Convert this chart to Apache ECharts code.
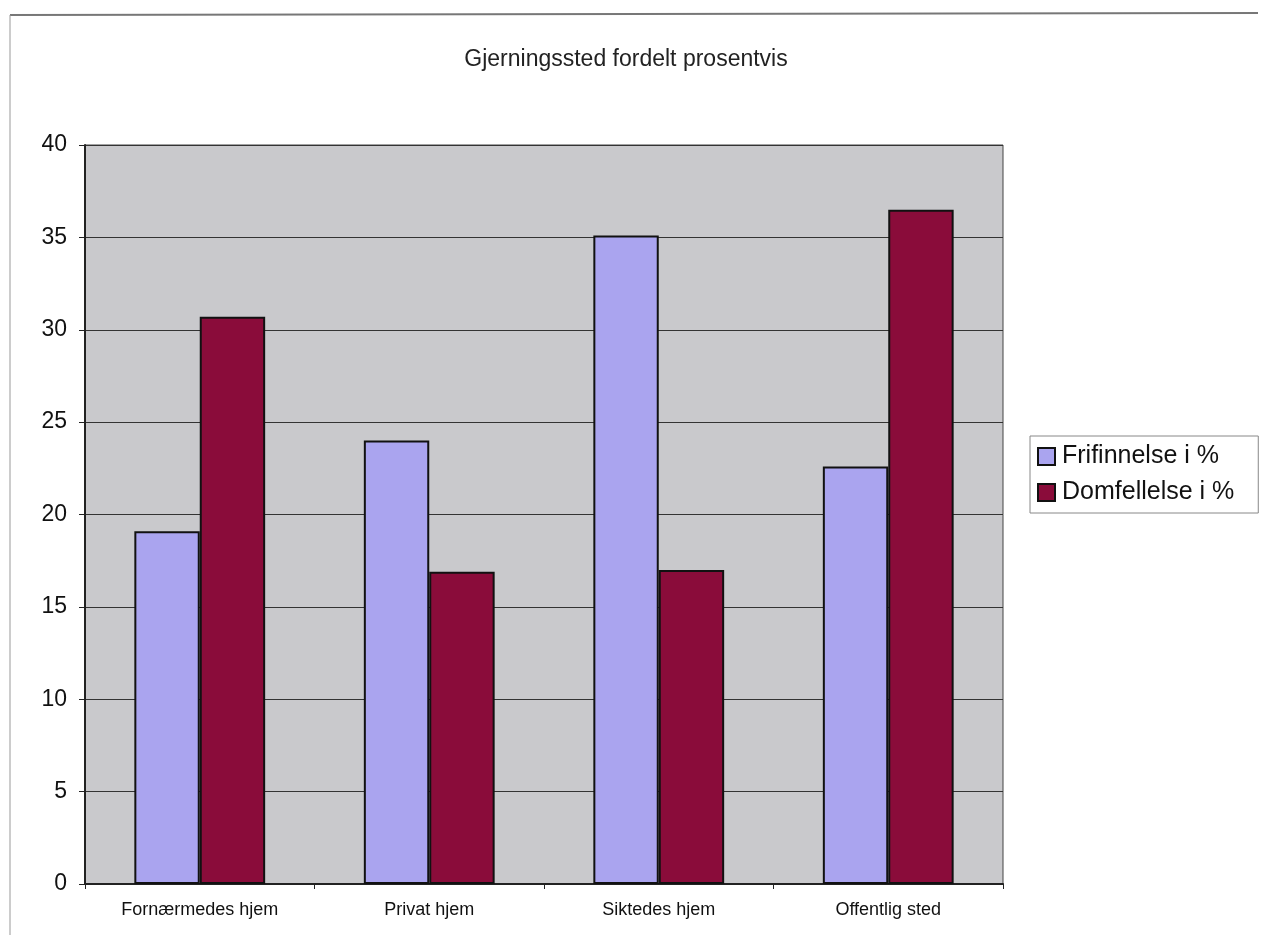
<!DOCTYPE html>
<html><head><meta charset="utf-8">
<script src="https://cdn.jsdelivr.net/npm/echarts@6/dist/echarts.min.js"></script>
<style>html,body{margin:0;padding:0;background:#fff}#c{width:1261px;height:938px}</style>
</head><body><div id="c"></div>
<script>
const categories = ['Fornærmedes hjem', 'Privat hjem', 'Siktedes hjem', 'Offentlig sted'];
const frifinnelse = [19.1, 24.0, 35.1, 22.6];
const domfellelse = [30.7, 16.9, 17.0, 36.5];
const seriesNames = ['Frifinnelse i %', 'Domfellelse i %'];

const chart = echarts.init(document.getElementById('c'));
chart.setOption({
  backgroundColor: '#fff',
  animation: false,
  title: {
    text: 'Gjerningssted fordelt prosentvis',
    left: 621, top: 43, textAlign: 'center',
    textStyle: { fontFamily: 'Liberation Sans, Arial', fontSize: 23, fontWeight: 'normal', color: '#222' }
  },
  graphic: [
    { type: 'line', shape: { x1: 10, y1: 15, x2: 1258, y2: 13 }, style: { stroke: '#777', lineWidth: 2 } },
    { type: 'line', shape: { x1: 10, y1: 15, x2: 10, y2: 935 }, style: { stroke: '#999', lineWidth: 1 } }
  ],
  legend: {
    orient: 'vertical',
    left: 1030, top: 436,
    icon: 'rect',
    itemWidth: 17, itemHeight: 17, itemGap: 11,
    padding: [8, 24, 8, 7],
    borderColor: '#888', borderWidth: 1,
    textStyle: { fontFamily: 'Liberation Sans, Arial', fontSize: 25, color: '#111', padding: [0, 0, 0, 2] },
    data: seriesNames.map(n => ({ name: n, itemStyle: { borderColor: '#111', borderWidth: 2 } }))
  },
  grid: { left: 85, right: 258, top: 145, bottom: 54, show: true, backgroundColor: '#c9c9cc', borderColor: '#444', borderWidth: 1 },
  xAxis: {
    type: 'category', data: categories,
    axisLine: { lineStyle: { color: '#222', width: 2 } },
    axisTick: { show: true, length: 5, lineStyle: { color: '#222' } },
    axisLabel: { fontFamily: 'Liberation Sans, Arial', fontSize: 18, color: '#111', margin: 17 }
  },
  yAxis: {
    type: 'value', min: 0, max: 40, interval: 5,
    axisLine: { show: true, lineStyle: { color: '#222', width: 2 } },
    axisTick: { show: true, length: 6, lineStyle: { color: '#222' } },
    axisLabel: { fontFamily: 'Liberation Sans, Arial', fontSize: 23, color: '#111', margin: 18 },
    splitLine: { lineStyle: { color: '#333', width: 1 } }
  },
  series: [
    { name: seriesNames[0], type: 'bar', data: frifinnelse, barGap: '0%', barCategoryGap: '43%',
      itemStyle: { color: '#aaa4ef', borderColor: '#111', borderWidth: 2 } },
    { name: seriesNames[1], type: 'bar', data: domfellelse, barGap: '0%', barCategoryGap: '43%',
      itemStyle: { color: '#8a0c3a', borderColor: '#111', borderWidth: 2 } }
  ]
});
</script></body></html>
